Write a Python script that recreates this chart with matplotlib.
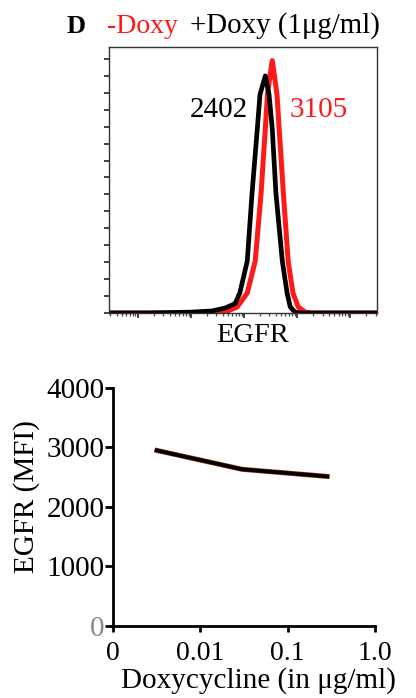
import numpy as np
import matplotlib.pyplot as plt
from matplotlib.ticker import LogLocator, NullFormatter, FixedLocator

plt.rcParams['font.family'] = ['Liberation Serif', 'DejaVu Serif']

# histogram traces (log10 of EGFR intensity, counts in tick units)
black_logx = [-0.55, 0.2, 1.0, 1.4, 1.65, 1.83, 1.92, 2.06, 2.15, 2.25, 2.30, 2.40, 2.47, 2.53, 2.60, 2.72, 2.81, 2.87, 2.96, 3.06, 4.5]
black_y = [0.0, 0.0, 0.05, 0.12, 0.3, 0.55, 1.18, 3.06, 7.06, 10.9, 12.9, 14.0, 12.9, 10.9, 7.06, 3.06, 1.18, 0.35, 0.05, 0.0, 0.0]
red_logx = [-0.55, 1.17, 1.64, 1.87, 2.06, 2.21, 2.32, 2.40, 2.44, 2.53, 2.62, 2.66, 2.74, 2.83, 2.92, 3.02, 3.15, 3.25, 4.5]
red_y = [0.0, 0.0, 0.05, 0.35, 1.18, 3.06, 7.06, 10.9, 12.9, 14.9, 12.9, 10.9, 7.06, 3.06, 1.18, 0.35, 0.05, 0.0, 0.0]
mfi_minus = "3105"
mfi_plus = "2402"

# dose response
doxy = [0.003, 0.03, 0.3]
mfi = [2958, 2633, 2510]
xtick_vals = [0.001, 0.01, 0.1, 1.0]
xtick_labels = ["0", "0.01", "0.1", "1.0"]
ytick_vals = [0, 1000, 2000, 3000, 4000]

fig = plt.figure(figsize=(4.16, 6.98), dpi=100)

# ---- top: histogram overlay ----
ax1 = fig.add_axes([0.261, 0.5516, 0.645, 0.381])
ax1.plot(10 ** np.array(red_logx), red_y, color='#ff1a1a', lw=3.6, solid_joinstyle='round')
ax1.plot(10 ** np.array(black_logx), black_y, color='black', lw=3.4, solid_joinstyle='round')
ax1.set_xscale('log')
ax1.set_xlim(10 ** -0.55, 10 ** 4.5)
ax1.set_ylim(0, 15.7)
ax1.xaxis.set_major_locator(LogLocator(base=10, numticks=10))
ax1.xaxis.set_minor_locator(LogLocator(base=10, subs=np.arange(2, 10), numticks=20))
ax1.xaxis.set_major_formatter(NullFormatter())
ax1.xaxis.set_minor_formatter(NullFormatter())
ax1.yaxis.set_major_locator(FixedLocator(np.arange(0, 16, 1)))
ax1.set_yticklabels([])
ax1.tick_params(axis='both', which='major', direction='out', length=3.5, width=1.2, color='#222222')
ax1.tick_params(axis='both', which='minor', direction='out', length=2.5, width=0.9, color='#444444')
for s in ax1.spines.values():
    s.set_linewidth(1.0)
    s.set_color('#333333')
ax1.text(0.3035, 0.737, mfi_plus, transform=ax1.transAxes, fontsize=21, color='black')
ax1.text(0.676, 0.737, mfi_minus, transform=ax1.transAxes, fontsize=21, color='#ff1a1a')

fig.text(67 / 416, 1 - 33 / 698, "D", fontsize=19, fontweight='bold')
fig.text(107 / 416, 1 - 33 / 698, "-Doxy", fontsize=20, color='#ff1a1a')
fig.text(190 / 416, 1 - 33 / 698, "+Doxy (1\u03bcg/ml)", fontsize=20.8, color='black')
fig.text(253 / 416, 1 - 342 / 698, "EGFR", fontsize=20.5, ha='center')

# ---- bottom: MFI vs doxycycline ----
ax2 = fig.add_axes([0.2716, 0.1032, 0.630, 0.341])
ax2.plot(doxy, mfi, color='#8a2a10', lw=3.6, solid_capstyle='butt')
ax2.plot(doxy, mfi, color='black', lw=2.6, solid_capstyle='butt')
ax2.set_xscale('log')
ax2.set_xlim(0.001, 1.0)
ax2.set_ylim(0, 4000)
ax2.xaxis.set_major_locator(FixedLocator(xtick_vals))
ax2.xaxis.set_minor_locator(FixedLocator([]))
ax2.set_xticklabels(xtick_labels)
ax2.set_yticks(ytick_vals)
ax2.set_yticklabels([str(v) for v in ytick_vals])
ax2.get_yticklabels()[0].set_color('#888888')
ax2.spines['top'].set_visible(False)
ax2.spines['right'].set_visible(False)
for s in ['left', 'bottom']:
    ax2.spines[s].set_linewidth(2.0)
ax2.tick_params(axis='x', direction='out', length=4, width=2.0, pad=7, labelsize=20)
ax2.tick_params(axis='y', direction='out', length=5.5, width=2.0, pad=0.5, labelsize=21)
fig.text(27 / 416, 1 - 497 / 698, "EGFR (MFI)", fontsize=21, rotation=90, ha='center', va='center')
fig.text(258 / 416, 1 - 688 / 698, "Doxycycline (in \u03bcg/ml)", fontsize=21, ha='center')

fig.savefig('out.png', dpi=100)
